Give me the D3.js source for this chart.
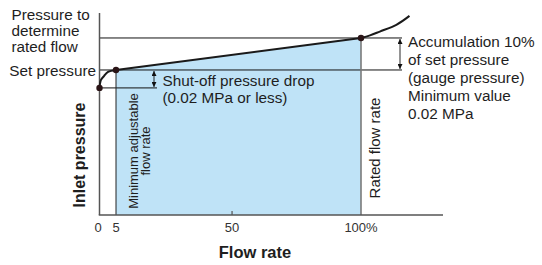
<!DOCTYPE html>
<html>
<head>
<meta charset="utf-8">
<script src="https://d3js.org/d3.v7.min.js"></script>
<style>
    body { margin: 0; background: #fff; }
    text {
        font-family: "Liberation Sans", Arial, Helvetica, sans-serif;
        fill: #1e1e1e;
    }
    .lbl { font-size: 15.3px; }
    .tick-lbl { font-size: 13px; fill: #333; }
    .bold { font-weight: bold; font-size: 16.5px; }
</style>
</head>
<body>
<svg id="vis"></svg>
<script>
    var width = 542,
        height = 265;

    // flow in % of rated flow, pressure in % of set pressure
    var tickValues = [0, 5, 50, 100];
    var tickLabels = ["0", "5", "50", "100%"];

    // opening curve: reseat point up to set pressure at min flow
    var openFlow = [0, 0.45, 1.36, 2.6, 5];
    var openPressure = [94.4, 96.9, 98.1, 99.4, 100];

    // adjustable range: min flow -> rated flow
    var rangeFlow = [5, 100];
    var rangePressure = [100, 110];

    // beyond rated flow
    var overFlow = [100, 103.5, 107.3, 113.7, 118.8];
    var overPressure = [110, 110.8, 112, 114.1, 116.9];

    var setPressure = 100,
        ratedPressure = 110,
        reseatPressure = 94.4,
        minFlow = 5,
        ratedFlow = 100;

    var svg = d3.select("#vis").attr("width", width).attr("height", height);

    var x = d3.scaleLinear()
        .domain([0, 5, 100])
        .range([99.5, 116, 361]);
    var y = d3.scaleLinear()
        .domain([54.7, 117.8])
        .range([215, 13]);

    var xMax = 131.8;

    // arrow markers
    var defs = svg.append("defs");
    ["start", "end"].forEach(function (k) {
        defs.append("marker")
            .attr("id", "arr-" + k)
            .attr("viewBox", "0 0 8 8")
            .attr("refX", k === "end" ? 8 : 0)
            .attr("refY", 4)
            .attr("markerWidth", 5)
            .attr("markerHeight", 5)
            .attr("markerUnits", "userSpaceOnUse")
            .attr("orient", "auto")
            .append("path")
            .attr("d", k === "end" ? "M0,0 L8,4 L0,8 Z" : "M8,0 L0,4 L8,8 Z")
            .attr("fill", "#111");
    });

    var rangePts = rangeFlow.map((f, i) => [f, rangePressure[i]]);

    // shaded area below the adjustable range
    svg.append("path")
        .datum(rangePts)
        .attr("fill", "#bfe3f7")
        .attr("d", d3.area()
            .x(d => x(d[0]))
            .y0(y(54.7))
            .y1(d => y(d[1])));

    // horizontal reference lines
    svg.append("line")
        .attr("x1", x(0)).attr("x2", 402)
        .attr("y1", y(ratedPressure)).attr("y2", y(ratedPressure))
        .attr("stroke", "#111").attr("stroke-width", 1);
    svg.append("line")
        .attr("x1", x(0)).attr("x2", 402)
        .attr("y1", y(setPressure)).attr("y2", y(setPressure))
        .attr("stroke", "#111").attr("stroke-width", 1);
    svg.append("line")
        .attr("x1", x(0)).attr("x2", 157)
        .attr("y1", y(reseatPressure)).attr("y2", y(reseatPressure))
        .attr("stroke", "#111").attr("stroke-width", 1);

    // vertical flow markers
    svg.append("line")
        .attr("x1", x(minFlow)).attr("x2", x(minFlow))
        .attr("y1", y(setPressure)).attr("y2", y(54.7))
        .attr("stroke", "#222").attr("stroke-width", 1);
    svg.append("line")
        .attr("x1", x(ratedFlow)).attr("x2", x(ratedFlow))
        .attr("y1", y(ratedPressure)).attr("y2", y(54.7))
        .attr("stroke", "#7a7a7a").attr("stroke-width", 1.6);

    // double arrows
    svg.append("line")
        .attr("x1", 154).attr("x2", 154)
        .attr("y1", y(setPressure) + 1).attr("y2", y(reseatPressure) - 1)
        .attr("stroke", "#111").attr("stroke-width", 0.9)
        .attr("marker-start", "url(#arr-start)")
        .attr("marker-end", "url(#arr-end)");
    svg.append("line")
        .attr("x1", 400).attr("x2", 400)
        .attr("y1", y(ratedPressure) + 1).attr("y2", y(setPressure) - 1)
        .attr("stroke", "#111").attr("stroke-width", 0.9)
        .attr("marker-start", "url(#arr-start)")
        .attr("marker-end", "url(#arr-end)");

    // axes
    svg.append("line")
        .attr("x1", x(0)).attr("x2", x(0))
        .attr("y1", y(117.8)).attr("y2", y(54.7))
        .attr("stroke", "#555").attr("stroke-width", 1.5);
    svg.append("line")
        .attr("x1", x(0) - 0.75).attr("x2", x(xMax))
        .attr("y1", y(54.7)).attr("y2", y(54.7))
        .attr("stroke", "#555").attr("stroke-width", 1.5);
    svg.append("line")
        .attr("x1", x(50)).attr("x2", x(50))
        .attr("y1", y(54.7)).attr("y2", y(54.7) - 4)
        .attr("stroke", "#555").attr("stroke-width", 1.2);

    svg.selectAll(".tick-lbl")
        .data(tickValues)
        .enter().append("text")
        .attr("class", "tick-lbl")
        .attr("x", (d, i) => x(d) + (i === 0 ? -1.5 : 0))
        .attr("y", 231.5)
        .attr("text-anchor", "middle")
        .text((d, i) => tickLabels[i]);

    // characteristic curve
    var line = d3.line().x(d => x(d[0])).y(d => y(d[1]));
    svg.append("path")
        .datum(openFlow.map((f, i) => [f, openPressure[i]]))
        .attr("fill", "none").attr("stroke", "#1a1a1a").attr("stroke-width", 2)
        .attr("d", line.curve(d3.curveCatmullRom.alpha(0.5)));
    svg.append("path")
        .datum(rangePts)
        .attr("fill", "none").attr("stroke", "#1a1a1a").attr("stroke-width", 2)
        .attr("d", d3.line().x(d => x(d[0])).y(d => y(d[1])));
    svg.append("path")
        .datum(overFlow.map((f, i) => [f, overPressure[i]]))
        .attr("fill", "none").attr("stroke", "#1a1a1a").attr("stroke-width", 2)
        .attr("d", d3.line().x(d => x(d[0])).y(d => y(d[1])).curve(d3.curveCatmullRom.alpha(0.5)));

    // points
    var pts = [[0, reseatPressure], [minFlow, setPressure], [ratedFlow, ratedPressure]];
    svg.selectAll(".pt")
        .data(pts)
        .enter().append("circle")
        .attr("class", "pt")
        .attr("cx", d => x(d[0]))
        .attr("cy", d => y(d[1]))
        .attr("r", 3.2)
        .attr("fill", "#2a1416");

    // labels
    var multi = function (lines, px, py, dy, anchor) {
        var t = svg.append("text").attr("class", "lbl")
            .attr("text-anchor", anchor || "start");
        lines.forEach(function (s, i) {
            t.append("tspan").attr("x", px).attr("y", py + i * dy).text(s);
        });
        return t;
    };
    multi(["Pressure to", "determine", "rated flow"], 11.5, 20, 15.9);
    multi(["Set pressure"], 96, 75.5, 0, "end");
    multi(["Shut-off pressure drop", "(0.02 MPa or less)"], 162.5, 86, 17);
    multi(["Accumulation 10%", "of set pressure", "(gauge pressure)", "Minimum value", "0.02 MPa"], 408, 47, 17.9);

    // rotated labels
    var rot = svg.append("text")
        .attr("transform", "translate(137.5,151) rotate(-90)")
        .attr("text-anchor", "middle")
        .style("font-size", "13px");
    rot.append("tspan").attr("x", 0).attr("y", 0).text("Minimum adjustable");
    rot.append("tspan").attr("x", 0).attr("y", 12.8).text("flow rate");

    svg.append("text")
        .attr("transform", "translate(379.5,148) rotate(-90)")
        .attr("text-anchor", "middle")
        .style("font-size", "15px")
        .text("Rated flow rate");

    svg.append("text")
        .attr("class", "bold")
        .attr("transform", "translate(85,155) rotate(-90)")
        .attr("text-anchor", "middle")
        .style("font-size", "16px")
        .text("Inlet pressure");

    svg.append("text")
        .attr("class", "bold")
        .attr("x", 255)
        .attr("y", 258)
        .attr("text-anchor", "middle")
        .text("Flow rate");
</script>
</body>
</html>
